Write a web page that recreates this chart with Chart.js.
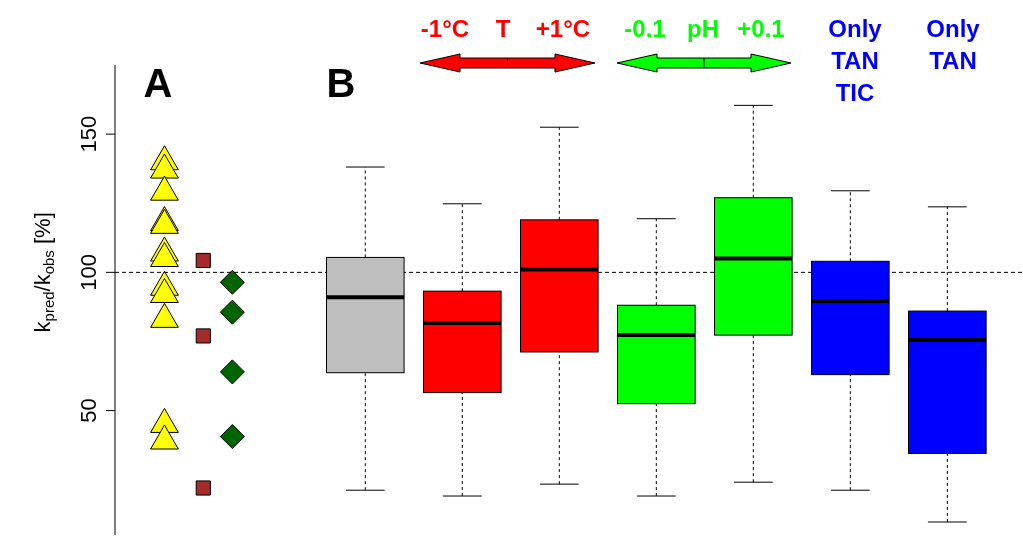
<!DOCTYPE html>
<html><head><meta charset="utf-8">
<script src="https://cdn.jsdelivr.net/npm/chart.js@4"></script>
<style>html,body{margin:0;background:#fff}#wrap{width:1023px;height:552px}</style>
</head><body><div id="wrap"><canvas id="c"></canvas></div>
<script>
// ── Data ─────────────────────────────────────────────
const yTicks = [50, 100, 150];
const triangleVals = [140, 137, 129, 118, 117, 107, 105, 94.6, 92, 83, 45, 39];
const squareVals = [104.3, 77, 22];
const diamondVals = [96.4, 85.6, 64, 40.6];
const pointX = [-1.07, -0.67, -0.37];
const boxPos = [1, 2, 3, 4, 5, 6, 7];
const boxLow = [21.2, 19.1, 23.4, 19.1, 24.1, 21.2, 9.7];
const boxQ1 = [63.7, 56.5, 71.2, 52.5, 77.3, 63, 34.5];
const boxMed = [91, 81.7, 101, 77.3, 105, 89.6, 75.5];
const boxQ3 = [105.4, 93.2, 119, 88.1, 127, 104, 86];
const boxHigh = [138.1, 124.8, 152.5, 119.4, 160.4, 129.5, 123.7];
const boxColors = ['#bebebe', '#ff0000', '#ff0000', '#00ff00', '#00ff00', '#0000ff', '#0000ff'];

const FONT = '"Liberation Sans", Arial, sans-serif';

const boxPlugin = {
  id: 'boxes',
  afterDatasetsDraw(chart) {
    const { ctx, scales: { x, y }, chartArea: a } = chart;
    ctx.save();
    // reference line at 100
    ctx.setLineDash([4, 3]);
    ctx.strokeStyle = '#000'; ctx.lineWidth = 1;
    ctx.beginPath(); ctx.moveTo(a.left, y.getPixelForValue(100)); ctx.lineTo(a.right, y.getPixelForValue(100)); ctx.stroke();
    const hw = x.getPixelForValue(0.4) - x.getPixelForValue(0);
    const cap = hw * 0.5;
    boxPos.forEach((p, i) => {
      const cx = x.getPixelForValue(p);
      const yl = y.getPixelForValue(boxLow[i]), y1 = y.getPixelForValue(boxQ1[i]);
      const ym = y.getPixelForValue(boxMed[i]), y3 = y.getPixelForValue(boxQ3[i]);
      const yh = y.getPixelForValue(boxHigh[i]);
      ctx.setLineDash([3, 3]); ctx.lineWidth = 1;
      ctx.beginPath(); ctx.moveTo(cx, yl); ctx.lineTo(cx, y1); ctx.moveTo(cx, y3); ctx.lineTo(cx, yh); ctx.stroke();
      ctx.setLineDash([]);
      ctx.beginPath(); ctx.moveTo(cx - cap, yl); ctx.lineTo(cx + cap, yl); ctx.moveTo(cx - cap, yh); ctx.lineTo(cx + cap, yh); ctx.stroke();
      ctx.fillStyle = boxColors[i];
      ctx.fillRect(cx - hw, y3, 2 * hw, y1 - y3);
      ctx.strokeRect(cx - hw, y3, 2 * hw, y1 - y3);
      ctx.lineWidth = 4;
      ctx.beginPath(); ctx.moveTo(cx - hw, ym); ctx.lineTo(cx + hw, ym); ctx.stroke();
    });
    // left axis
    ctx.lineWidth = 1;
    ctx.beginPath(); ctx.moveTo(a.left, a.top); ctx.lineTo(a.left, a.bottom); ctx.stroke();
    ctx.fillStyle = '#000';
    ctx.font = '22px ' + FONT;
    ctx.textAlign = 'center'; ctx.textBaseline = 'bottom';
    yTicks.forEach(t => {
      const py = y.getPixelForValue(t);
      ctx.beginPath(); ctx.moveTo(a.left, py); ctx.lineTo(a.left - 9, py); ctx.stroke();
      ctx.save(); ctx.translate(a.left - 14, py); ctx.rotate(-Math.PI / 2);
      ctx.fillText(String(t), 0, 0); ctx.restore();
    });
    // axis title k_pred/k_obs [%]
    ctx.save(); ctx.translate(44, y.getPixelForValue(100)); ctx.rotate(-Math.PI / 2);
    const parts = [['k', 22, 0], ['pred', 15, 6], ['/k', 22, 0], ['obs', 15, 6], [' [%]', 22, 0]];
    let tw = 0;
    parts.forEach(pt => { ctx.font = pt[1] + 'px ' + FONT; tw += ctx.measureText(pt[0]).width; });
    let xx = -tw / 2;
    ctx.textAlign = 'left'; ctx.textBaseline = 'middle';
    parts.forEach(pt => { ctx.font = pt[1] + 'px ' + FONT; ctx.fillText(pt[0], xx, pt[2]); xx += ctx.measureText(pt[0]).width; });
    ctx.restore();
    // panel letters
    ctx.font = 'bold 40px ' + FONT; ctx.textAlign = 'center'; ctx.textBaseline = 'middle';
    ctx.fillText('A', 158, 86); ctx.fillText('B', 341, 86);
    // header labels
    ctx.font = 'bold 24px ' + FONT;
    const txt = (s, px, py, c) => { ctx.fillStyle = c; ctx.fillText(s, px, py); };
    txt('-1°C', 445, 30, '#ff0000'); txt('T', 503, 30, '#ff0000'); txt('+1°C', 563, 30, '#ff0000');
    txt('-0.1', 645, 30, '#00ff00'); txt('pH', 703, 30, '#00ff00'); txt('+0.1', 761, 30, '#00ff00');
    txt('Only', 855, 30, '#0000ff'); txt('TAN', 855, 62, '#0000ff'); txt('TIC', 855, 94, '#0000ff');
    txt('Only', 953, 30, '#0000ff'); txt('TAN', 953, 62, '#0000ff');
    const arrow = (x0, x1, cy, c) => {
      ctx.fillStyle = c; ctx.strokeStyle = '#000'; ctx.lineWidth = 1;
      ctx.beginPath();
      ctx.moveTo(x0, cy); ctx.lineTo(x0 + 40, cy - 9); ctx.lineTo(x0 + 40, cy - 5);
      ctx.lineTo(x1 - 40, cy - 5); ctx.lineTo(x1 - 40, cy - 9); ctx.lineTo(x1, cy);
      ctx.lineTo(x1 - 40, cy + 9); ctx.lineTo(x1 - 40, cy + 5); ctx.lineTo(x0 + 40, cy + 5);
      ctx.lineTo(x0 + 40, cy + 9); ctx.closePath(); ctx.fill(); ctx.stroke();
      const m = (x0 + x1) / 2;
      ctx.beginPath(); ctx.moveTo(m, cy - 5); ctx.lineTo(m, cy + 5); ctx.stroke();
    };
    arrow(420, 595, 63, '#ff0000');
    arrow(617, 791, 63, '#00ff00');
    ctx.restore();
  }
};

new Chart(document.getElementById('c'), {
  type: 'scatter',
  data: {
    datasets: [
      { data: triangleVals.map(v => ({ x: pointX[0], y: v })), pointStyle: 'triangle', pointRadius: 16,
        backgroundColor: '#ffff00', borderColor: '#000', borderWidth: 1 },
      { data: squareVals.map(v => ({ x: pointX[1], y: v })), pointStyle: 'rect', pointRadius: 10,
        backgroundColor: '#a52a2a', borderColor: '#000', borderWidth: 1 },
      { data: diamondVals.map(v => ({ x: pointX[2], y: v })), pointStyle: 'rectRot', pointRadius: 12,
        backgroundColor: '#006400', borderColor: '#000', borderWidth: 1 }
    ]
  },
  options: {
    responsive: true, maintainAspectRatio: false, animation: false,
    layout: { autoPadding: false, padding: { left: 115, top: 65, bottom: 17, right: 0 } },
    plugins: { legend: { display: false }, tooltip: { enabled: false } },
    scales: {
      x: { type: 'linear', min: -1.58, max: 7.78, display: false },
      y: { min: 5, max: 175, display: false }
    }
  },
  plugins: [boxPlugin]
});
</script></body></html>
